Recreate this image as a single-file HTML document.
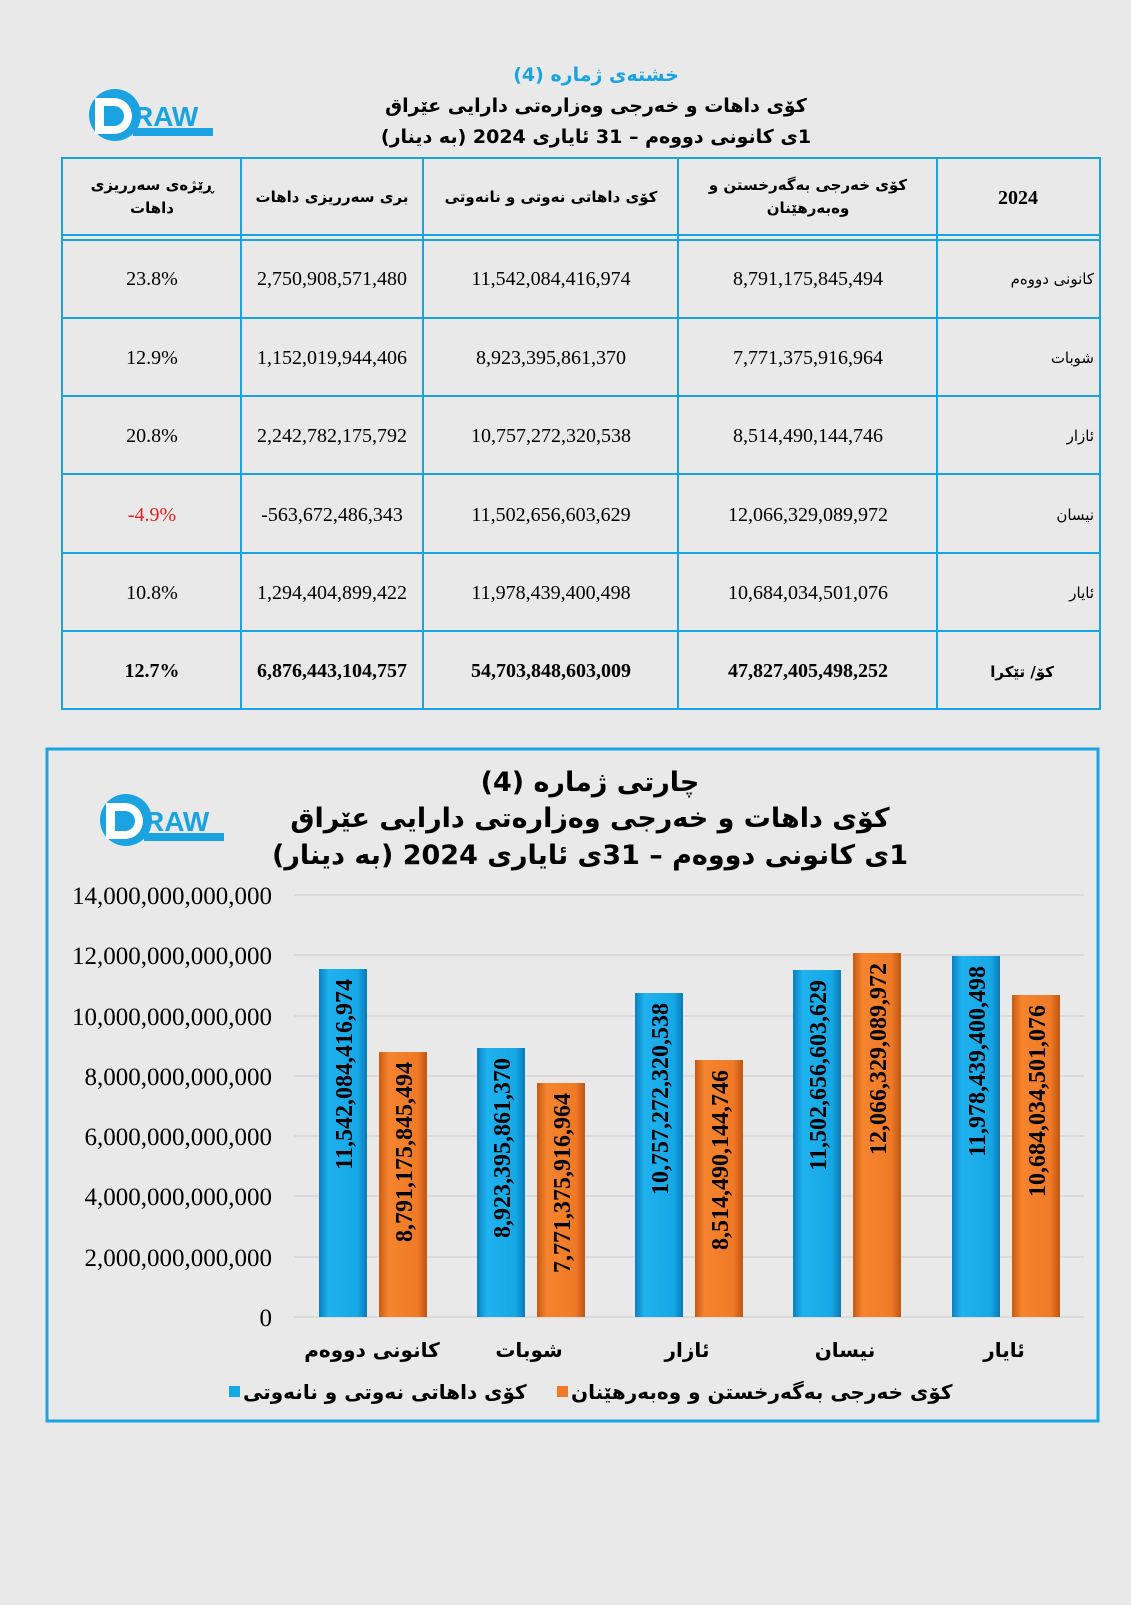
<!DOCTYPE html>
<html><head><meta charset="utf-8"><style>
body{margin:0;background:#e9e9e9}
svg text{font-family:"Liberation Serif","DejaVu Sans",serif}
.ar{font-family:"DejaVu Sans","Liberation Serif",sans-serif}
</style></head><body>
<svg width="1131" height="1600" viewBox="0 0 1131 1600" xmlns="http://www.w3.org/2000/svg">
<defs>
<linearGradient id="gb" x1="0" x2="1"><stop offset="0" stop-color="#0a7fbf"/><stop offset=".2" stop-color="#1fb2ee"/><stop offset=".8" stop-color="#16a8e6"/><stop offset="1" stop-color="#0a7ab8"/></linearGradient>
<linearGradient id="go" x1="0" x2="1"><stop offset="0" stop-color="#c75a14"/><stop offset=".2" stop-color="#f6842f"/><stop offset=".8" stop-color="#f07a26"/><stop offset="1" stop-color="#bf5512"/></linearGradient>
<g id="logo">
<circle cx="38" cy="25" r="26" fill="#1aa3e0"/>
<rect x="18" y="8" width="9" height="36" fill="#fff"/>
<path d="M27 8 h10 a18 18 0 0 1 0 36 h-10 v-8 h10 a10 10 0 0 0 0 -20 h-10z" fill="#fff"/>
<text x="56" y="36" font-size="28" font-weight="bold" fill="#1aa3e0" style="font-family:'Liberation Sans',sans-serif">RAW</text>
<rect x="56" y="38" width="80" height="8" fill="#1aa3e0"/>
</g>
</defs>
<rect width="1131" height="1600" fill="#e9e9e9"/>
<use href="#logo" x="77" y="90"/>
<text class="ar" direction="rtl" x="596" y="81" font-size="19" font-weight="bold" fill="#19a3e0" text-anchor="middle">خشتەی ژمارە (4)</text>
<text class="ar" direction="rtl" x="596" y="112" font-size="19" font-weight="bold" text-anchor="middle">کۆی داهات و خەرجی وەزارەتی دارایی عێراق</text>
<text class="ar" direction="rtl" x="596" y="143" font-size="19" font-weight="bold" text-anchor="middle">1ی کانونی دووەم – 31 ئایاری 2024 (بە دینار)</text>
<g stroke="#19a3e0" stroke-width="2" fill="none">
<rect x="62" y="158" width="1038" height="551"/>
<line x1="62" y1="235" x2="1100" y2="235"/><line x1="62" y1="240" x2="1100" y2="240"/>
<line x1="62" y1="318" x2="1100" y2="318"/><line x1="62" y1="396" x2="1100" y2="396"/>
<line x1="62" y1="474" x2="1100" y2="474"/><line x1="62" y1="553" x2="1100" y2="553"/>
<line x1="62" y1="631" x2="1100" y2="631"/>
<line x1="241" y1="158" x2="241" y2="709"/><line x1="423" y1="158" x2="423" y2="709"/>
<line x1="678" y1="158" x2="678" y2="709"/><line x1="937" y1="158" x2="937" y2="709"/>
</g>
<g font-size="15" font-weight="bold" text-anchor="middle">
<text class="ar" direction="rtl" x="152" y="190">ڕێژەی سەرریزی</text><text class="ar" x="152" y="213">داهات</text>
<text class="ar" direction="rtl" x="332" y="202">بری سەرریزی داهات</text>
<text class="ar" direction="rtl" x="551" y="202">کۆی داهاتی نەوتی و نانەوتی</text>
<text class="ar" direction="rtl" x="808" y="190">کۆی خەرجی بەگەرخستن و</text><text class="ar" x="808" y="213">وەبەرهێنان</text>
</g>
<text x="1018" y="204" font-size="20" font-weight="bold" text-anchor="middle">2024</text>
<g font-size="20" text-anchor="middle">
<text x="152" y="285">23.8%</text><text x="332" y="285">2,750,908,571,480</text><text x="551" y="285">11,542,084,416,974</text><text x="808" y="285">8,791,175,845,494</text>
<text x="152" y="364">12.9%</text><text x="332" y="364">1,152,019,944,406</text><text x="551" y="364">8,923,395,861,370</text><text x="808" y="364">7,771,375,916,964</text>
<text x="152" y="442">20.8%</text><text x="332" y="442">2,242,782,175,792</text><text x="551" y="442">10,757,272,320,538</text><text x="808" y="442">8,514,490,144,746</text>
<text x="152" y="521" fill="#e02020">-4.9%</text><text x="332" y="521">-563,672,486,343</text><text x="551" y="521">11,502,656,603,629</text><text x="808" y="521">12,066,329,089,972</text>
<text x="152" y="599">10.8%</text><text x="332" y="599">1,294,404,899,422</text><text x="551" y="599">11,978,439,400,498</text><text x="808" y="599">10,684,034,501,076</text>
<g font-weight="bold"><text x="152" y="677">12.7%</text><text x="332" y="677">6,876,443,104,757</text><text x="551" y="677">54,703,848,603,009</text><text x="808" y="677">47,827,405,498,252</text></g>
</g>
<g font-size="15" text-anchor="end">
<text class="ar" x="1094" y="284">کانونی دووەم</text><text class="ar" x="1094" y="363">شوبات</text><text class="ar" x="1094" y="441">ئازار</text><text class="ar" x="1094" y="520">نیسان</text><text class="ar" x="1094" y="598">ئایار</text>
<text class="ar" x="1054" y="677" font-weight="bold">کۆ/ تێکرا</text>
</g>
<rect x="47" y="749" width="1051" height="672" fill="none" stroke="#19a3e0" stroke-width="3"/>
<use href="#logo" x="88" y="795"/>
<g font-weight="bold" font-size="27" text-anchor="middle">
<text class="ar" direction="rtl" x="590" y="791">چارتی ژمارە (4)</text>
<text class="ar" direction="rtl" x="590" y="827">کۆی داهات و خەرجی وەزارەتی دارایی عێراق</text>
<text class="ar" direction="rtl" x="590" y="864">1ی کانونی دووەم – 31ی ئایاری 2024 (بە دینار)</text>
</g>
<g stroke="#d6d6d6" stroke-width="1.5">
<line x1="294" x2="1084" y1="895" y2="895"/><line x1="294" x2="1084" y1="955" y2="955"/><line x1="294" x2="1084" y1="1016" y2="1016"/><line x1="294" x2="1084" y1="1076" y2="1076"/><line x1="294" x2="1084" y1="1136" y2="1136"/><line x1="294" x2="1084" y1="1196" y2="1196"/><line x1="294" x2="1084" y1="1257" y2="1257"/><line x1="294" x2="1084" y1="1317" y2="1317"/>
</g>
<g font-size="25" text-anchor="end">
<text x="272" y="904">14,000,000,000,000</text><text x="272" y="964">12,000,000,000,000</text><text x="272" y="1025">10,000,000,000,000</text><text x="272" y="1085">8,000,000,000,000</text><text x="272" y="1145">6,000,000,000,000</text><text x="272" y="1205">4,000,000,000,000</text><text x="272" y="1266">2,000,000,000,000</text><text x="272" y="1326">0</text>
</g>
<g>
<rect x="319" y="969" width="48" height="348" fill="url(#gb)"/>
<rect x="379" y="1052" width="48" height="265" fill="url(#go)"/>
<rect x="477" y="1048" width="48" height="269" fill="url(#gb)"/>
<rect x="537" y="1083" width="48" height="234" fill="url(#go)"/>
<rect x="635" y="993" width="48" height="324" fill="url(#gb)"/>
<rect x="695" y="1060" width="48" height="257" fill="url(#go)"/>
<rect x="793" y="970" width="48" height="347" fill="url(#gb)"/>
<rect x="853" y="953" width="48" height="364" fill="url(#go)"/>
<rect x="952" y="956" width="48" height="361" fill="url(#gb)"/>
<rect x="1012" y="995" width="48" height="322" fill="url(#go)"/>
</g>
<g font-size="24" font-weight="bold" text-anchor="end">
<text transform="translate(352,979) rotate(-90)">11,542,084,416,974</text>
<text transform="translate(412,1062) rotate(-90)">8,791,175,845,494</text>
<text transform="translate(510,1058) rotate(-90)">8,923,395,861,370</text>
<text transform="translate(570,1093) rotate(-90)">7,771,375,916,964</text>
<text transform="translate(668,1003) rotate(-90)">10,757,272,320,538</text>
<text transform="translate(728,1070) rotate(-90)">8,514,490,144,746</text>
<text transform="translate(826,980) rotate(-90)">11,502,656,603,629</text>
<text transform="translate(886,963) rotate(-90)">12,066,329,089,972</text>
<text transform="translate(985,966) rotate(-90)">11,978,439,400,498</text>
<text transform="translate(1045,1005) rotate(-90)">10,684,034,501,076</text>
</g>
<g font-size="20" font-weight="bold" text-anchor="middle">
<text class="ar" x="372" y="1357">کانونی دووەم</text><text class="ar" x="529" y="1357">شوبات</text><text class="ar" x="687" y="1357">ئازار</text><text class="ar" x="845" y="1357">نیسان</text><text class="ar" x="1004" y="1357">ئایار</text>
</g>
<rect x="229" y="1386" width="11" height="11" fill="#16a8e6"/>
<text class="ar" x="243" y="1399" font-size="20" font-weight="bold">کۆی داهاتی نەوتی و نانەوتی</text>
<rect x="557" y="1386" width="11" height="11" fill="#f07a26"/>
<text class="ar" x="571" y="1399" font-size="20" font-weight="bold">کۆی خەرجی بەگەرخستن و وەبەرهێنان</text>
</svg>
</body></html>
